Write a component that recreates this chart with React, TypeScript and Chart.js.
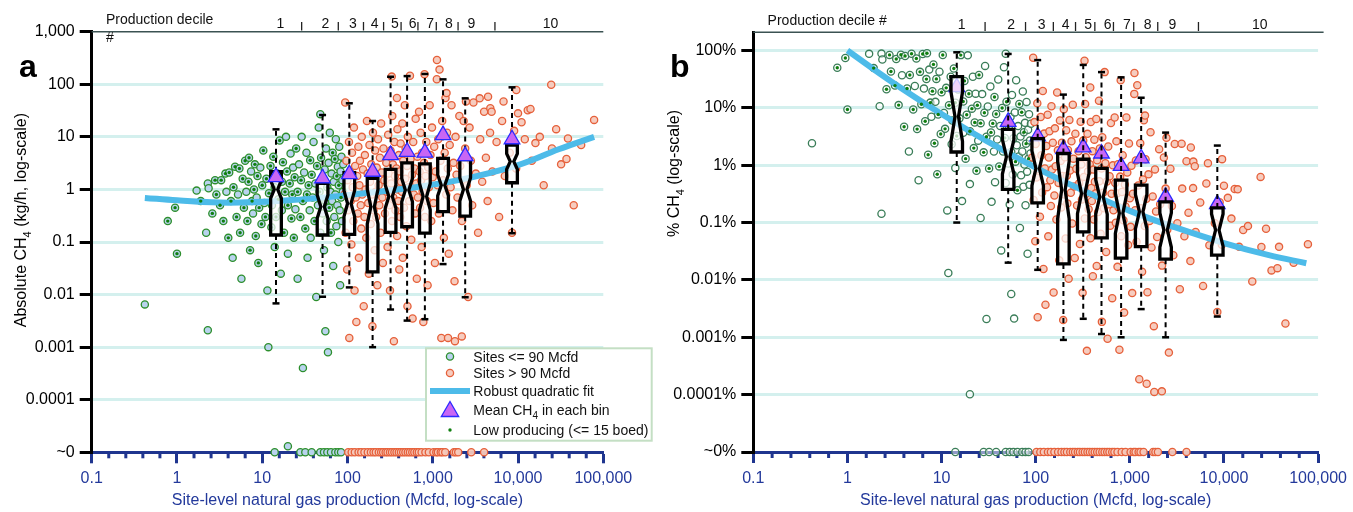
import React, { useEffect, useRef } from 'react';
import { Chart, registerables } from 'chart.js';

Chart.register(...registerables);

const FONT = "'Liberation Sans', Arial, Helvetica, sans-serif";
Chart.defaults.font.family = FONT;

const AXIS_BLUE = '#1f358f';
const TEXT_BLUE = '#23399b';
const GRID = '#d4f0ee';
const TOPLINE = '#3b5252';
const FIT_BLUE = '#4dbbe9';
const GREEN_A = '#2d8f2d';
const GREEN_A_FILL = '#b9d3ee';
const GREEN_B = '#3a7d58';
const GREEN_B_FILL = 'rgba(255,255,255,0.5)';
const DOT_GREEN = '#0f7f0f';
const ORANGE = '#e6603a';
const ORANGE_FILL = 'rgba(246,201,188,0.95)';
const TRI_FILL = '#c866f4';
const TRI_EDGE = '#2a2aff';

// ---------------- axes / ticks ----------------
const NEAR_ZERO = 1e-5; // value drawn on the "~0" row
const xTickValues = [0.1, 1, 10, 100, 1000, 10000, 100000];
const xTickLabels = ['0.1', '1', '10', '100', '1,000', '10,000', '100,000'];
const yTickValuesA = [1e-5, 1e-4, 1e-3, 0.01, 0.1, 1, 10, 100, 1000];
const yTickLabelsA = ['~0', '0.0001', '0.001', '0.01', '0.1', '1', '10', '100', '1,000'];
const yTickValuesB = [1e-5, 1e-4, 1e-3, 0.01, 0.1, 1, 10, 100];
const yTickLabelsB = ['~0%', '0.0001%', '0.001%', '0.01%', '0.1%', '1%', '10%', '100%'];
const yMaxA = 1000;
const yMaxB = 207.5;

// ---------------- decile header ----------------
const decileLabels = ['1', '2', '3', '4', '5', '6', '7', '8', '9', '10'];
const decileLabelX = [16.3, 55, 116, 208, 360, 580, 930, 1550, 2830, 24000];
const decileBounds = [29, 78, 154, 265, 425, 670, 1100, 1980, 5360];

// ---------------- sites (panel a, kg/h) ----------------
// [Mcfd, kg/h CH4, low producing flag]
const sitesLowGas: [number, number, number][] = [
  [0.42, 0.0065, 0], [0.78, 0.25, 1], [0.95, 0.45, 1], [1.0, 0.06, 1], [1.7, 0.95, 0], [1.9, 0.6, 1],
  [2.3, 1.3, 0], [2.35, 1.05, 0], [2.2, 0.15, 0], [2.3, 0.0021, 0], [2.6, 0.35, 1], [2.8, 1.5, 1], [2.9, 0.8, 1],
  [3.2, 0.5, 1], [3.3, 1.5, 1], [3.5, 0.25, 1], [3.7, 2.0, 1], [3.8, 0.9, 0], [4.0, 0.12, 1], [4.1, 2.1, 1],
  [4.3, 0.6, 1], [4.5, 0.05, 0], [4.6, 1.1, 1], [4.8, 2.7, 1], [5.0, 0.3, 1], [5.2, 0.8, 0], [5.4, 2.5, 1],
  [5.5, 0.15, 1], [5.7, 0.02, 0], [5.9, 1.6, 1],
  [6.1, 0.45, 1], [6.3, 3.5, 1], [6.5, 0.9, 0], [6.7, 0.25, 1], [6.9, 1.4, 1], [7.0, 4.0, 1], [7.2, 0.07, 1],
  [7.4, 2.2, 0], [7.6, 0.6, 1], [7.8, 0.35, 0], [8.0, 1.0, 1], [8.2, 3.0, 1], [8.4, 0.13, 1], [8.6, 0.7, 0],
  [8.8, 1.8, 1], [9.0, 0.04, 1], [9.2, 0.45, 1], [9.5, 2.6, 0], [9.8, 0.22, 1], [10, 1.2, 1], [10.3, 5.5, 1],
  [10.6, 0.55, 0], [10.9, 0.3, 1], [11.2, 1.6, 1], [11.5, 0.012, 0], [11.8, 0.001, 0], [12, 0.85, 1],
  [12.5, 2.8, 1], [12.8, 0.19, 1], [13, 0.5, 0], [13.5, 4.2, 1], [14, 1.1, 1], [14, 0.08, 0], [14.5, 0.3, 1],
  [15, 2.0, 0], [15.5, 0.65, 1], [16, 8.5, 1], [16.5, 0.025, 0], [17, 1.4, 1], [17, 0.4, 0], [17.5, 3.3, 1],
  [18, 0.15, 1], [18.5, 0.9, 1], [19, 10, 0], [19.5, 2.2, 1], [20, 0.5, 1], [20, 0.06, 0], [20, 0.000013, 0],
  [21, 1.3, 1], [21.5, 4.8, 0], [22, 0.28, 1], [22.5, 0.8, 1], [23, 2.6, 0], [23.5, 0.12, 1], [24, 1.7, 1],
  [24.5, 0.42, 0], [25, 6.0, 1],
  [26, 0.9, 1], [26, 0.02, 0], [27, 3.0, 0], [28, 0.3, 1], [28.5, 1.5, 1], [29, 10, 0], [30, 0.6, 1],
  [30, 0.0004, 0], [31, 2.1, 0], [32, 0.18, 1], [33, 5.0, 0], [33.5, 0.8, 1], [34, 0.05, 0], [35, 1.2, 1],
  [36, 0.4, 0], [36.5, 3.6, 1], [37, 0.12, 0], [38, 1.9, 1], [39, 0.7, 0], [40, 8.0, 0], [41, 0.25, 1],
  [42, 1.3, 0], [43, 0.009, 0], [44, 2.8, 1], [45, 0.5, 0], [46, 15, 0], [47, 0.9, 1], [48, 27, 0],
  [48, 0.15, 0], [49, 4.0, 1],
  [51, 0.35, 0], [52, 1.6, 1], [53, 0.07, 0], [54, 2.4, 0], [55, 0.6, 1], [55, 0.002, 0], [56, 6.0, 0],
  [57, 0.25, 0], [58, 1.1, 1], [59, 0.0008, 0], [60, 3.2, 0], [61, 0.45, 1], [62, 12, 0], [63, 0.9, 0],
  [64, 0.15, 1], [65, 2.0, 0], [66, 0.6, 0], [67, 5.0, 1], [68, 0.035, 0], [69, 1.4, 0], [70, 0.3, 0],
  [71, 3.8, 1], [72, 0.8, 0], [73, 9, 0], [74, 0.2, 0], [75, 1.8, 1], [76, 0.5, 0], [77, 2.7, 0],
  [78, 0.1, 0], [79, 1.2, 1], [80, 6.5, 0], [81, 0.4, 0], [82, 0.015, 0], [83, 2.2, 0], [84, 0.7, 1],
  [85, 4.2, 0], [86, 0.25, 0], [87, 1.5, 0], [88, 0.9, 0], [89, 3.0, 0],
];

// [Mcfd, kg/h CH4]
const sitesHighGas: [number, number][] = [
  [92, 0.8], [94, 45], [95, 0.15], [97, 3.5], [99, 0.03], [100, 1.5], [102, 0.4], [104, 8], [105, 0.0015],
  [107, 2.2], [109, 0.6], [111, 0.09], [113, 5], [115, 1.1], [117, 0.25], [119, 15], [121, 0.012], [123, 2.8],
  [125, 0.7], [127, 0.003], [130, 1.8], [132, 0.35], [134, 6.5], [136, 0.05], [138, 1.2], [140, 3.5],
  [143, 0.5], [145, 0.18], [147, 10], [149, 0.8],
  [152, 2.4], [155, 0.006], [158, 0.3], [160, 4.5], [163, 1.0], [166, 0.12], [169, 20], [172, 2.0],
  [175, 0.55], [178, 0.025], [181, 7], [184, 1.4], [187, 0.22], [190, 3.0], [193, 0.8], [196, 0.0025],
  [199, 12], [202, 0.4], [205, 1.8], [208, 0.07], [211, 5.5], [214, 0.9], [217, 0.3], [220, 2.6],
  [224, 0.015], [228, 9], [232, 1.2], [236, 0.5], [240, 4], [244, 0.15], [248, 18], [252, 2.1], [256, 0.7],
  [260, 0.04], [264, 6],
  [270, 1.5], [275, 0.35], [285, 3.2], [290, 0.9], [295, 0.08], [300, 11], [305, 2], [310, 0.5],
  [315, 0.012], [320, 5.5], [325, 1.3], [330, 140], [332, 0.25], [335, 25], [340, 3], [345, 0.7],
  [350, 0.0013], [355, 8], [360, 1.8], [365, 0.4], [380, 55], [375, 2.5], [382, 0.13], [385, 14], [390, 1.0],
  [395, 0.6], [400, 4.5], [405, 0.03], [410, 2.2], [415, 0.3], [420, 7.5], [425, 1.4],
  [435, 0.9], [440, 18], [445, 0.05], [450, 3.5], [460, 0.45], [470, 40], [475, 1.6], [480, 6], [490, 0.2],
  [500, 2.8], [505, 0.006], [510, 10], [520, 1.1], [530, 0.6], [540, 145], [550, 3.8], [560, 0.11],
  [570, 1.9], [580, 0.0035], [590, 8], [600, 0.8], [610, 2.5], [620, 0.35], [630, 22], [640, 1.3],
  [650, 0.02], [660, 4.2], [670, 0.7],
  [690, 30], [700, 2.2], [710, 0.45], [720, 12], [730, 1.5], [740, 0.08], [750, 5], [760, 0.9],
  [775, 0.003], [790, 3.2], [800, 155], [810, 0.3], [825, 1.8], [840, 8], [855, 0.6], [870, 0.015],
  [885, 2.6], [900, 1.1], [920, 40], [940, 4.5], [960, 0.25], [980, 15], [1000, 1.7], [1020, 0.55],
  [1040, 6.5], [1060, 0.04], [1080, 2.2],
  [1115, 125], [1120, 290], [1140, 1.2], [1160, 9], [1180, 0.35], [1200, 190], [1230, 3.5], [1260, 0.0015],
  [1290, 20], [1320, 1.5], [1350, 0.12], [1380, 5], [1410, 55], [1440, 0.8], [1450, 68], [1470, 12],
  [1500, 2.5], [1510, 0.0015], [1540, 0.06], [1580, 7], [1620, 1.1], [1660, 40], [1700, 0.4], [1750, 3.2],
  [1800, 0.018], [1820, 0.0013], [1850, 10], [1900, 1.9], [1950, 0.7],
  [2050, 25], [2100, 2.8], [2190, 0.0016], [2200, 0.25], [2300, 20], [2400, 6], [2450, 47], [2500, 1.2],
  [2600, 0.009], [2700, 15], [2800, 3.5], [2900, 0.5], [3000, 45], [3200, 2], [3400, 0.15], [3550, 54],
  [3600, 9], [3800, 1.4], [4000, 30], [4200, 4], [4400, 0.6], [4450, 58], [4700, 12], [4730, 35],
  [4900, 30], [5000, 2.2],
  [5600, 8], [6000, 0.3], [6500, 20], [6760, 47], [7000, 1.8], [8000, 5], [8500, 0.15], [9000, 13],
  [9500, 2.5], [9550, 78], [10000, 28], [11000, 19], [12000, 9], [13000, 32], [14000, 34], [14500, 3.5],
  [16000, 7.6], [18000, 10], [20000, 1.2], [24500, 98], [25000, 6], [28000, 14], [32000, 3], [37000, 3.8],
  [38500, 9.3], [45000, 0.5], [55000, 7], [78000, 21],
];

// sites with ~0 emissions (Mcfd)
const zeroLowGasX = [14, 28, 32, 38, 48, 53, 58, 64, 72, 78, 84];
const zeroHighGasX = [102, 112, 122, 135, 145, 158, 173, 188, 202, 215, 233, 248, 262, 280, 295, 315, 333,
  355, 376, 400, 424, 450, 478, 510, 540, 575, 608, 650, 686, 740, 820, 900, 1020, 1100, 1150, 1240, 1300,
  1400, 1770, 1870, 1990, 2830, 4000];

// kg/h of CH4 carried by 1 Mcfd of produced gas: converts the same sites to % of production (panel b)
const KGH_PER_MCFD = 0.64;

// ---------------- fits ----------------
const fitXA = [0.42, 1, 4, 20, 100, 500, 2000, 10000, 30000, 78000];
const fitYA = [0.69, 0.62, 0.56, 0.62, 0.78, 1.05, 1.5, 2.9, 5.8, 10];
const fitXB = [1, 3, 10, 30, 100, 300, 1000, 3000, 10000, 30000, 75000];
const fitYB = [100, 28, 7.8, 2.65, 0.91, 0.38, 0.16, 0.083, 0.044, 0.027, 0.0195];

// ---------------- decile bins (box plots) ----------------
const binX = [14.5, 51, 105, 197, 320, 500, 808, 1320, 2400, 8500];
// panel a (kg/h)
const meanA = [1.72, 1.63, 1.96, 2.17, 4.5, 5.2, 5.0, 10.8, 4.3, 9.0];
const q1A = [0.136, 0.136, 0.14, 0.027, 0.153, 0.195, 0.147, 0.377, 0.31, 1.34];
const medA = [1.0, 0.47, 0.54, 0.47, 0.73, 0.97, 0.73, 1.2, 1.0, 3.4];
const q3A = [2.17, 1.3, 2.08, 1.63, 2.41, 3.2, 3.05, 3.9, 3.7, 7.0];
const whiskLoA = [0.0068, 0.0091, 0.0137, 0.001, 0.0052, 0.0032, 0.0034, 0.038, 0.0089, 0.147];
const whiskHiA = [13.9, 26, 43.5, 20, 139, 143, 157, 124, 54, 87.5];
const notchA = [0.17, 0.22, 0.25, 0.33, 0.22, 0.22, 0.25, 0.2, 0.22, 0.15];
// panel b (%)
const meanB = [23, 5.7, 3.2, 1.9, 2.05, 1.6, 0.97, 1.32, 0.28, 0.21];
const q1B = [1.7, 0.38, 0.22, 0.019, 0.069, 0.054, 0.024, 0.038, 0.023, 0.027];
const medB = [7, 1.4, 0.88, 0.37, 0.32, 0.28, 0.145, 0.155, 0.074, 0.074];
const q3B = [35, 4.2, 2.9, 1.6, 1.27, 0.88, 0.55, 0.45, 0.23, 0.18];
const whiskLoB = [0.1, 0.02, 0.015, 0.0009, 0.0021, 0.00114, 0.001, 0.0031, 0.001, 0.0023];
const whiskHiB = [93, 87, 68, 17, 56, 42, 34, 15, 3.7, 2.2];
const notchB = [0.43, 0.3, 0.3, 0.5, 0.35, 0.3, 0.35, 0.3, 0.3, 0.28];

const legendLabels = ['Sites <= 90 Mcfd', 'Sites > 90 Mcfd', 'Robust quadratic fit', 'Mean CH|4| in each bin', 'Low producing (<= 15 boed)'];

// ---------------- helpers ----------------
type Part = [string, boolean];
const parseRich = (s: string): Part[] => s.split('|').map((t, i) => [t, i % 2 === 1] as Part).filter((p) => p[0].length);

function richWidth(ctx: CanvasRenderingContext2D, parts: Part[], size: number) {
  let w = 0;
  for (const [t, sub] of parts) {
    ctx.font = `${sub ? Math.round(size * 0.7) : size}px ${FONT}`;
    w += ctx.measureText(t).width;
  }
  return w;
}
function drawRich(ctx: CanvasRenderingContext2D, parts: Part[], x: number, y: number, size: number, color: string) {
  ctx.fillStyle = color;
  ctx.textAlign = 'left';
  ctx.textBaseline = 'alphabetic';
  let cx = x;
  for (const [t, sub] of parts) {
    ctx.font = `${sub ? Math.round(size * 0.7) : size}px ${FONT}`;
    ctx.fillText(t, cx, sub ? y + size * 0.3 : y);
    cx += ctx.measureText(t).width;
  }
}
function seg(ctx: CanvasRenderingContext2D, x1: number, y1: number, x2: number, y2: number) {
  ctx.beginPath();
  ctx.moveTo(x1, y1);
  ctx.lineTo(x2, y2);
  ctx.stroke();
}

function drawBoxes(chart: any, b: any) {
  const { ctx } = chart;
  const xs = chart.scales.x;
  const ys = chart.scales.y;
  ctx.save();
  for (let i = 0; i < binX.length; i++) {
    const cx = xs.getPixelForValue(binX[i]);
    const y1 = ys.getPixelForValue(b.q1[i]);
    const y3 = ys.getPixelForValue(b.q3[i]);
    const ym = ys.getPixelForValue(b.med[i]);
    const lm = Math.log10(b.med[i]);
    const yNh = ys.getPixelForValue(Math.pow(10, Math.min(lm + b.notch[i], Math.log10(b.q3[i]))));
    const yNl = ys.getPixelForValue(Math.pow(10, Math.max(lm - b.notch[i], Math.log10(b.q1[i]))));
    const yHi = ys.getPixelForValue(b.hi[i]);
    const yLo = ys.getPixelForValue(b.lo[i]);
    ctx.strokeStyle = '#000';
    ctx.lineWidth = 2;
    ctx.setLineDash([5, 4]);
    seg(ctx, cx, y3, cx, yHi);
    seg(ctx, cx, y1, cx, yLo);
    ctx.setLineDash([]);
    ctx.lineWidth = 2.5;
    seg(ctx, cx - 3.5, yHi, cx + 3.5, yHi);
    seg(ctx, cx - 3.5, yLo, cx + 3.5, yLo);
    const hw = b.w / 2;
    const nw = b.nw / 2;
    ctx.beginPath();
    ctx.moveTo(cx - hw, y3);
    ctx.lineTo(cx + hw, y3);
    ctx.lineTo(cx + hw, yNh);
    ctx.lineTo(cx + nw, ym);
    ctx.lineTo(cx + hw, yNl);
    ctx.lineTo(cx + hw, y1);
    ctx.lineTo(cx - hw, y1);
    ctx.lineTo(cx - hw, yNl);
    ctx.lineTo(cx - nw, ym);
    ctx.lineTo(cx - hw, yNh);
    ctx.closePath();
    ctx.fillStyle = 'rgba(255,255,255,0.72)';
    ctx.fill();
    ctx.lineWidth = 3.3;
    ctx.lineJoin = 'miter';
    ctx.stroke();
  }
  ctx.restore();
}

function drawLegend(ctx: CanvasRenderingContext2D) {
  ctx.save();
  ctx.fillStyle = '#fff';
  ctx.fillRect(426, 348.3, 225.7, 92.4);
  ctx.strokeStyle = '#c4dfc4';
  ctx.lineWidth = 2;
  ctx.strokeRect(426, 348.3, 225.7, 92.4);
  const mx = 450;
  // sites <= 90
  ctx.beginPath();
  ctx.arc(mx, 356.5, 3.6, 0, Math.PI * 2);
  ctx.fillStyle = GREEN_A_FILL;
  ctx.fill();
  ctx.lineWidth = 1.3;
  ctx.strokeStyle = GREEN_A;
  ctx.stroke();
  // sites > 90
  ctx.beginPath();
  ctx.arc(mx, 373, 3.6, 0, Math.PI * 2);
  ctx.fillStyle = ORANGE_FILL;
  ctx.fill();
  ctx.strokeStyle = ORANGE;
  ctx.stroke();
  // fit
  ctx.strokeStyle = FIT_BLUE;
  ctx.lineWidth = 6;
  seg(ctx, 430, 391, 470, 391);
  // triangle
  const r = 10;
  const ty = 411.5;
  ctx.beginPath();
  ctx.moveTo(mx, ty - r);
  ctx.lineTo(mx + r * 0.866, ty + r / 2);
  ctx.lineTo(mx - r * 0.866, ty + r / 2);
  ctx.closePath();
  ctx.fillStyle = TRI_FILL;
  ctx.fill();
  ctx.lineWidth = 1.3;
  ctx.strokeStyle = TRI_EDGE;
  ctx.stroke();
  // dot
  ctx.beginPath();
  ctx.arc(mx, 430, 1.7, 0, Math.PI * 2);
  ctx.fillStyle = DOT_GREEN;
  ctx.fill();
  const baselines = [361.7, 378, 396, 415, 435];
  legendLabels.forEach((t, i) => drawRich(ctx, parseRich(t), 473.3, baselines[i], 14, '#111'));
  ctx.restore();
}

function makeDecor(p: any) {
  return {
    id: 'decor_' + p.letter,
    beforeDatasetsDraw(chart: any) {
      const { ctx, chartArea } = chart;
      const xs = chart.scales.x;
      ctx.save();
      ctx.strokeStyle = AXIS_BLUE;
      ctx.lineWidth = 3;
      for (let d = -1; d < 5; d++) {
        for (let k = 1; k < 5; k++) {
          const px = xs.getPixelForValue(Math.pow(10, d + k / 5));
          seg(ctx, px, chartArea.bottom, px, chartArea.bottom + 6);
        }
      }
      ctx.restore();
    },
    afterDatasetDraw(chart: any, args: any) {
      if (args.index === p.boxAfter) drawBoxes(chart, p.bins);
    },
    afterDraw(chart: any) {
      const { ctx, chartArea: ca } = chart;
      const xs = chart.scales.x;
      ctx.save();
      ctx.strokeStyle = TOPLINE;
      ctx.lineWidth = 1.6;
      seg(ctx, ca.left, ca.top, p.topLineRight, ca.top);
      ctx.fillStyle = '#111';
      ctx.font = `14px ${FONT}`;
      ctx.textBaseline = 'middle';
      ctx.textAlign = 'left';
      ctx.fillText(p.header, p.headerX, p.headerY);
      if (p.hashY) ctx.fillText('#', p.headerX, p.hashY);
      ctx.textAlign = 'center';
      decileLabels.forEach((t, i) => ctx.fillText(t, xs.getPixelForValue(decileLabelX[i]), p.decileY));
      ctx.strokeStyle = '#222';
      ctx.lineWidth = 1.3;
      decileBounds.forEach((v) => {
        const px = xs.getPixelForValue(v);
        seg(ctx, px, p.sepTop, px, p.sepBottom);
      });
      // panel letter
      ctx.font = `bold 32px ${FONT}`;
      ctx.textAlign = 'left';
      ctx.textBaseline = 'alphabetic';
      ctx.fillStyle = '#000';
      ctx.fillText(p.letter, p.letterX, p.letterY);
      // y title (rotated, with subscript)
      const parts = parseRich(p.yTitle);
      const size = 16;
      const w = richWidth(ctx, parts, size);
      ctx.save();
      ctx.translate(p.yTitleX, p.yTitleEndY + w / 2);
      ctx.rotate(-Math.PI / 2);
      drawRich(ctx, parts, -w / 2, size * 0.36, size, '#000');
      ctx.restore();
      if (p.legend) drawLegend(ctx);
      ctx.restore();
    },
  };
}

const toPts = (xs: number[], ys: number[]) => xs.map((x, i) => ({ x, y: ys[i] }));

function buildConfig(p: any) {
  const ringStyle = (border: string, fill: string) => ({
    pointRadius: 3.6,
    pointBorderWidth: 1.3,
    pointBorderColor: border,
    pointBackgroundColor: fill,
    showLine: false,
    clip: false as any,
  });
  const datasets: any[] = [
    { label: 'low gas', data: p.green, ...ringStyle(p.greenRing, p.greenFill), order: 10 },
    { label: 'high gas', data: p.orange, ...ringStyle(ORANGE, ORANGE_FILL), order: 9 },
    {
      label: 'fit', data: p.fit, showLine: true, pointRadius: 0, borderColor: FIT_BLUE, borderWidth: 6,
      tension: 0.4, fill: false, order: 8, clip: false,
    },
    { label: 'low producing', data: p.dots, pointRadius: 1.7, pointBorderWidth: 0, pointBackgroundColor: DOT_GREEN, showLine: false, clip: false, order: 7 },
    {
      label: 'mean', data: p.means, pointStyle: 'triangle', pointRadius: 9, pointBorderWidth: 1.3,
      pointBackgroundColor: TRI_FILL, pointBorderColor: TRI_EDGE, showLine: false, clip: false, order: 6,
    },
  ];
  return {
    type: 'scatter',
    data: { datasets },
    options: {
      responsive: false,
      animation: false,
      devicePixelRatio: 1,
      events: [],
      layout: { padding: { left: 0, top: p.top, right: p.right, bottom: 0 } },
      plugins: { legend: { display: false }, tooltip: { enabled: false }, title: { display: false } },
      scales: {
        x: {
          type: 'logarithmic',
          position: 'bottom',
          min: 0.1,
          max: 100000,
          afterBuildTicks: (s: any) => { s.ticks = xTickValues.map((v) => ({ value: v })); },
          afterFit: (s: any) => { s.height = p.xAxisHeight; },
          ticks: {
            autoSkip: false, maxRotation: 0, minRotation: 0, padding: 6, color: TEXT_BLUE,
            font: { family: FONT, size: 16 },
            callback: (_v: any, i: number) => xTickLabels[i],
          },
          grid: { drawOnChartArea: false, drawTicks: true, tickLength: 11, tickWidth: 3, tickColor: AXIS_BLUE, color: AXIS_BLUE },
          border: { display: true, color: AXIS_BLUE, width: 3 },
          title: {
            display: true, text: 'Site-level natural gas production (Mcfd, log-scale)', color: TEXT_BLUE,
            font: { family: FONT, size: 16 }, padding: { top: 0, bottom: 1.5 },
          },
        },
        y: {
          type: 'logarithmic',
          position: 'left',
          min: NEAR_ZERO,
          max: p.yMax,
          afterBuildTicks: (s: any) => { s.ticks = p.yTicks.map((v: number) => ({ value: v })); },
          afterFit: (s: any) => { s.width = p.yAxisWidth; },
          ticks: {
            autoSkip: false, padding: 5, color: '#000', font: { family: FONT, size: 16 },
            callback: (_v: any, i: number) => p.yLabels[i],
          },
          grid: {
            color: (c: any) => {
              const v = c.tick ? c.tick.value : 0;
              return v === NEAR_ZERO || v >= p.hideGridFrom ? 'rgba(0,0,0,0)' : GRID;
            },
            lineWidth: 3, drawTicks: true, tickLength: 12, tickWidth: 3, tickColor: '#000',
          },
          border: { display: true, color: '#000', width: 3 },
        },
      },
    },
    plugins: [makeDecor(p)],
  };
}

const greenA = sitesLowGas.map(([x, y]) => ({ x, y }));
const dotsA = sitesLowGas.filter((s) => s[2] === 1).map(([x, y]) => ({ x, y }));
const orangeA = sitesHighGas.map(([x, y]) => ({ x, y }));
const zeroGreen = zeroLowGasX.map((x) => ({ x, y: NEAR_ZERO }));
const zeroOrange = zeroHighGasX.map((x) => ({ x, y: NEAR_ZERO }));
const pct = (x: number, kgh: number) => (kgh / (KGH_PER_MCFD * x)) * 100;
const greenB = sitesLowGas.map(([x, y]) => ({ x, y: pct(x, y) }));
const dotsB = sitesLowGas.filter((s) => s[2] === 1).map(([x, y]) => ({ x, y: pct(x, y) }));
const orangeB = sitesHighGas.map(([x, y]) => ({ x, y: pct(x, y) }));

const panelA = {
  letter: 'a', letterX: 19, letterY: 77,
  yTitle: 'Absolute CH|4| (kg/h, log-scale)', yTitleX: 20, yTitleEndY: 113,
  header: 'Production decile', headerX: 106, headerY: 20, hashY: 38.5, decileY: 24.5, sepTop: 22, sepBottom: 30.5,
  topLineRight: 603.3,
  top: 31.7, right: 660 - 603.3, yAxisWidth: 91.7, xAxisHeight: 512 - 452.3,
  yMax: yMaxA, yTicks: yTickValuesA, yLabels: yTickLabelsA, hideGridFrom: 1000,
  green: [...greenA, ...zeroGreen], orange: [...orangeA, ...zeroOrange], dots: dotsA,
  greenRing: GREEN_A, greenFill: GREEN_A_FILL,
  fit: toPts(fitXA, fitYA), means: toPts(binX, meanA),
  bins: { q1: q1A, med: medA, q3: q3A, lo: whiskLoA, hi: whiskHiA, notch: notchA, w: 10.7, nw: 3.5 },
  boxAfter: 3, legend: true,
};

const panelB = {
  letter: 'b', letterX: 10, letterY: 77,
  yTitle: '% CH|4| (log-scale)', yTitleX: 13, yTitleEndY: 110,
  header: 'Production decile #', headerX: 107.6, headerY: 20.7, hashY: 0, decileY: 25, sepTop: 22, sepBottom: 31,
  topLineRight: 663.6,
  top: 32.3, right: 693 - 659.7, yAxisWidth: 93.3, xAxisHeight: 512 - 452,
  yMax: yMaxB, yTicks: yTickValuesB, yLabels: yTickLabelsB, hideGridFrom: 1e9,
  green: [...greenB, ...zeroGreen], orange: [...orangeB, ...zeroOrange], dots: dotsB,
  greenRing: GREEN_B, greenFill: GREEN_B_FILL,
  fit: toPts(fitXB, fitYB), means: toPts(binX, meanB),
  bins: { q1: q1B, med: medB, q3: q3B, lo: whiskLoB, hi: whiskHiB, notch: notchB, w: 11.5, nw: 3.5 },
  boxAfter: 4, legend: false,
};

export default function App() {
  const refA = useRef<HTMLCanvasElement>(null);
  const refB = useRef<HTMLCanvasElement>(null);
  useEffect(() => {
    const ca = new Chart(refA.current as HTMLCanvasElement, buildConfig(panelA) as any);
    const cb = new Chart(refB.current as HTMLCanvasElement, buildConfig(panelB) as any);
    return () => {
      ca.destroy();
      cb.destroy();
    };
  }, []);
  return (
    <div style={{ position: 'fixed', left: 0, top: 0, width: 1353, height: 512, background: '#fff' }}>
      <canvas ref={refA} width={660} height={512} style={{ position: 'absolute', left: 0, top: 0, width: 660, height: 512 }} />
      <canvas ref={refB} width={693} height={512} style={{ position: 'absolute', left: 660, top: 0, width: 693, height: 512 }} />
    </div>
  );
}
